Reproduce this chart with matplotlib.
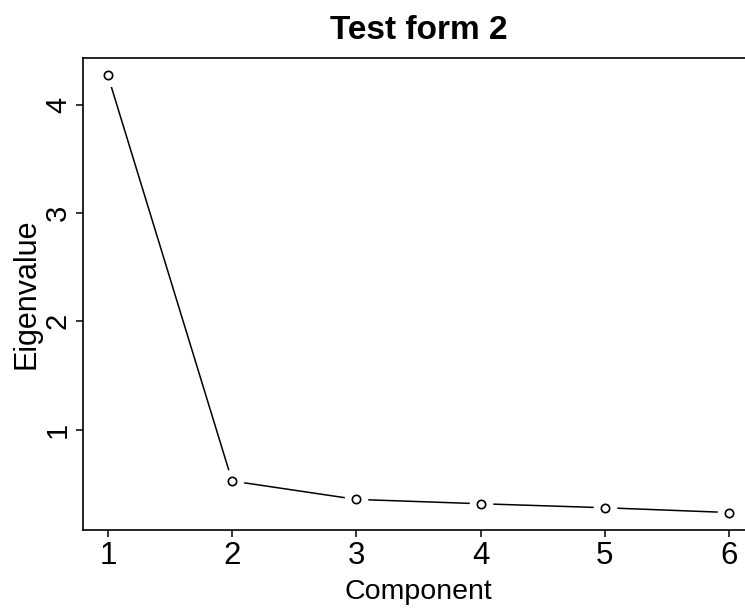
import numpy as np
import matplotlib.pyplot as plt

component = [1, 2, 3, 4, 5, 6]
eigenvalue = [4.27, 0.526, 0.356, 0.316, 0.279, 0.235]
x_ticks = [1, 2, 3, 4, 5, 6]
y_ticks = [1, 2, 3, 4]

font = ['Liberation Sans', 'DejaVu Sans']

fig = plt.figure(figsize=(7.45, 6.16), dpi=100)
# axes runs past the right edge of the picture, like the cropped original
ax = fig.add_axes([83 / 745, 86 / 616, 671 / 745, 472 / 616])

# R style type="b": line with gaps around the points
ax.plot(component, eigenvalue, '-', color='black', lw=1.1, zorder=2)
ax.plot(component, eigenvalue, 'o', ms=16, color='white', mec='white', zorder=3)
ax.plot(component, eigenvalue, 'o', ms=6, mfc='white', mec='black', mew=1.2, zorder=4)

# R pads the data range by 4%
xr = max(component) - min(component)
ax.set_xlim(min(component) - 0.04 * xr, max(component) + 0.04 * xr)
yr = max(eigenvalue) - min(eigenvalue)
ax.set_ylim(min(eigenvalue) - 0.04 * yr, max(eigenvalue) + 0.04 * yr)

ax.set_xticks(x_ticks)
ax.set_xticklabels([str(v) for v in x_ticks], family=font, fontsize=22.5)
ax.set_yticks(y_ticks)
ax.set_yticklabels([str(v) for v in y_ticks], family=font, fontsize=21,
                   rotation=90, va='center')
ax.tick_params(axis='both', length=5, width=1.1, direction='out', pad=3)

for s in ax.spines.values():
    s.set_linewidth(1.2)
ax.spines['right'].set_visible(False)

ax.set_title('Test form 2', family=font, fontsize=24, fontweight='bold', pad=14)
ax.set_xlabel('Component', family=font, fontsize=20.5, labelpad=6)
ax.set_ylabel('Eigenvalue', family=font, fontsize=22, labelpad=2)

fig.savefig('out.png', dpi=100)
